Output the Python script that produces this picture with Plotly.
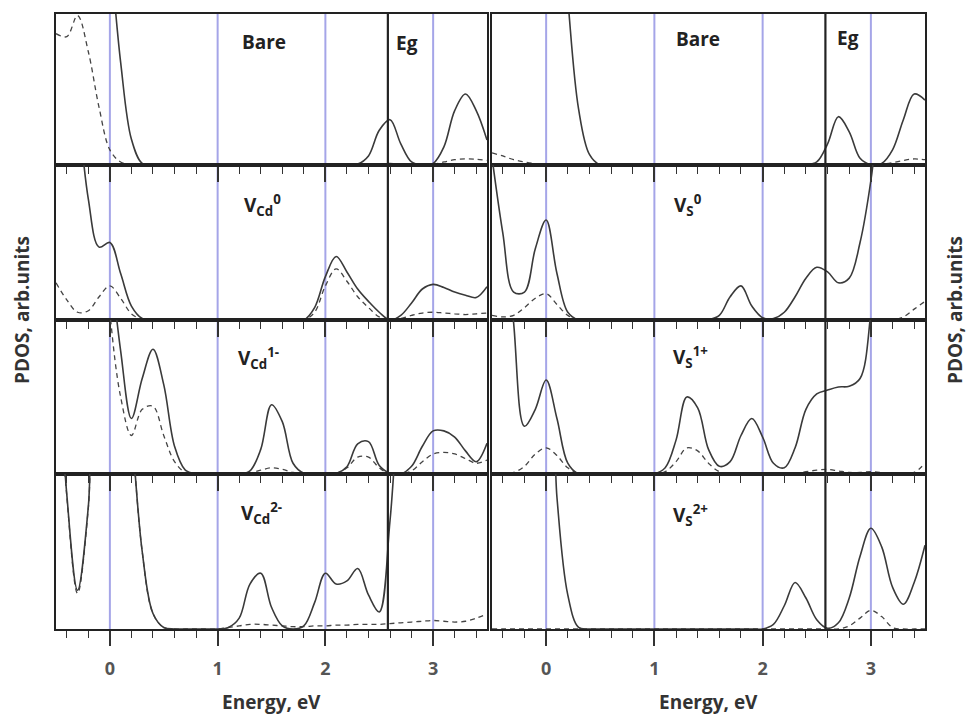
import plotly.graph_objects as go

# ---------------- data ----------------
ENERGY = [-0.5, -0.4, -0.3, -0.2, -0.1, 0.0, 0.1, 0.2, 0.3, 0.4,
          0.5, 0.6, 0.7, 0.8, 0.9, 1.0, 1.1, 1.2, 1.3, 1.4,
          1.5, 1.6, 1.7, 1.8, 1.9, 2.0, 2.1, 2.2, 2.3, 2.4,
          2.5, 2.6, 2.7, 2.8, 2.9, 3.0, 3.1, 3.2, 3.3, 3.4, 3.5]

EG = 2.58
GRID_LINES = [0, 1, 2, 3]
TICK_VALUES = [0, 1, 2, 3]
TICK_LABELS = ["0", "1", "2", "3"]

# Left column (Cd vacancy)
bare_cd_solid = [2.0, 2.0, 2.0, 2.0, 1.9, 1.4, 0.68, 0.17, 0.01, 0.0,
                 0.0, 0.0, 0.0, 0.0, 0.0, 0.0, 0.0, 0.0, 0.0, 0.0,
                 0.0, 0.0, 0.0, 0.0, 0.0, 0.0, 0.0, 0.0, 0.006, 0.06,
                 0.23, 0.30, 0.14, 0.02, 0.0, 0.01, 0.12, 0.36, 0.47, 0.36, 0.165]
bare_cd_dash = [0.87, 0.85, 0.99, 0.75, 0.38, 0.1, 0.02, 0.005, 0.0, 0.0,
                0.0, 0.0, 0.0, 0.0, 0.0, 0.0, 0.0, 0.0, 0.0, 0.0,
                0.0, 0.0, 0.0, 0.0, 0.0, 0.0, 0.0, 0.0, 0.0, 0.003,
                0.006, 0.01, 0.005, 0.0, 0.0, 0.005, 0.02, 0.035, 0.04, 0.038, 0.03]

vcd0_solid = [2.0, 2.0, 1.4, 0.78, 0.47, 0.50, 0.30, 0.09, 0.01, 0.0,
              0.0, 0.0, 0.0, 0.0, 0.0, 0.0, 0.0, 0.0, 0.0, 0.0,
              0.0, 0.0, 0.0, 0.0, 0.08, 0.28, 0.41, 0.31, 0.2, 0.12,
              0.05, 0.0, 0.03, 0.11, 0.2, 0.23, 0.21, 0.18, 0.16, 0.145, 0.215]
vcd0_dash = [0.24, 0.13, 0.05, 0.06, 0.15, 0.22, 0.14, 0.04, 0.005, 0.0,
             0.0, 0.0, 0.0, 0.0, 0.0, 0.0, 0.0, 0.0, 0.0, 0.0,
             0.0, 0.0, 0.0, 0.0, 0.05, 0.22, 0.33, 0.25, 0.15, 0.08,
             0.02, 0.0, 0.01, 0.03, 0.045, 0.05, 0.045, 0.04, 0.035, 0.04, 0.045]

vcd1_solid = [2.0, 2.0, 2.0, 2.0, 2.0, 1.4, 0.8, 0.36, 0.62, 0.81,
              0.58, 0.18, 0.025, 0.0, 0.0, 0.0, 0.0, 0.0, 0.02, 0.16,
              0.45, 0.34, 0.07, 0.005, 0.0, 0.0, 0.003, 0.047, 0.196, 0.21,
              0.055, 0.005, 0.0, 0.05, 0.18, 0.28, 0.28, 0.24, 0.15, 0.08, 0.2]
vcd1_dash = [2.0, 2.0, 2.0, 2.0, 2.0, 1.05, 0.5, 0.25, 0.42, 0.44,
             0.25, 0.08, 0.01, 0.0, 0.0, 0.0, 0.0, 0.0, 0.005, 0.025,
             0.04, 0.03, 0.01, 0.0, 0.0, 0.0, 0.005, 0.04, 0.11, 0.11,
             0.04, 0.0, 0.0, 0.02, 0.08, 0.13, 0.14, 0.13, 0.1, 0.07, 0.09]

vcd2_solid = [2.0, 0.87, 0.25, 0.79, 2.0, 2.0, 2.0, 1.3, 0.5, 0.1,
              0.01, 0.0, 0.0, 0.0, 0.0, 0.0, 0.01, 0.07, 0.29, 0.36,
              0.14, 0.02, 0.0, 0.02, 0.17, 0.36, 0.29, 0.31, 0.39, 0.22,
              0.11, 0.7, 1.6, 2.0, 2.0, 2.0, 2.0, 2.0, 2.0, 2.0, 2.0]
vcd2_dash = [2.0, 0.86, 0.23, 0.78, 2.0, 2.0, 2.0, 1.3, 0.5, 0.1,
             0.01, 0.0, 0.0, 0.0, 0.0, 0.0, 0.01, 0.02, 0.03, 0.03,
             0.025, 0.02, 0.015, 0.015, 0.02, 0.02, 0.025, 0.025, 0.03, 0.03,
             0.03, 0.035, 0.04, 0.045, 0.05, 0.055, 0.05, 0.045, 0.05, 0.07, 0.095]

# Right column (S vacancy)
bare_s_solid = [2.0, 2.0, 2.0, 2.0, 2.0, 2.0, 2.0, 1.1, 0.37, 0.07,
                0.0, 0.0, 0.0, 0.0, 0.0, 0.0, 0.0, 0.0, 0.0, 0.0,
                0.0, 0.0, 0.0, 0.0, 0.0, 0.0, 0.0, 0.0, 0.0, 0.0,
                0.02, 0.14, 0.32, 0.22, 0.045, 0.003, 0.01, 0.1, 0.3, 0.47, 0.43]
bare_s_dash = [0.08, 0.06, 0.035, 0.02, 0.008, 0.0, 0.0, 0.0, 0.0, 0.0,
               0.0, 0.0, 0.0, 0.0, 0.0, 0.0, 0.0, 0.0, 0.0, 0.0,
               0.0, 0.0, 0.0, 0.0, 0.0, 0.0, 0.0, 0.0, 0.0, 0.0,
               0.0, 0.0, 0.0, 0.0, 0.0, 0.0, 0.005, 0.015, 0.03, 0.04, 0.035]

vs0_solid = [1.05, 0.56, 0.18, 0.18, 0.46, 0.645, 0.3, 0.05, 0.0, 0.0,
             0.0, 0.0, 0.0, 0.0, 0.0, 0.0, 0.0, 0.0, 0.0, 0.0,
             0.002, 0.03, 0.15, 0.22, 0.09, 0.015, 0.01, 0.05, 0.15, 0.27,
             0.34, 0.31, 0.24, 0.27, 0.5, 0.9, 1.5, 2.0, 2.0, 2.0, 2.0]
vs0_dash = [0.03, 0.02, 0.03, 0.08, 0.14, 0.17, 0.1, 0.03, 0.0, 0.0,
            0.0, 0.0, 0.0, 0.0, 0.0, 0.0, 0.0, 0.0, 0.0, 0.0,
            0.0, 0.0, 0.0, 0.0, 0.0, 0.0, 0.0, 0.0, 0.0, 0.0,
            0.0, 0.0, 0.0, 0.0, 0.0, 0.0, 0.0, 0.0, 0.02, 0.07, 0.12]

vs1_solid = [2.0, 1.8, 0.98, 0.31, 0.42, 0.61, 0.36, 0.07, 0.0, 0.0,
             0.0, 0.0, 0.0, 0.0, 0.0, 0.0, 0.04, 0.22, 0.50, 0.43,
             0.16, 0.05, 0.08, 0.25, 0.36, 0.24, 0.07, 0.04, 0.17, 0.42,
             0.52, 0.545, 0.565, 0.57, 0.62, 1.05, 2.0, 2.0, 2.0, 2.0, 2.0]
vs1_dash = [0.0, 0.0, 0.01, 0.05, 0.13, 0.17, 0.12, 0.04, 0.005, 0.0,
            0.0, 0.0, 0.0, 0.0, 0.0, 0.0, 0.015, 0.08, 0.17, 0.15,
            0.07, 0.015, 0.005, 0.0, 0.0, 0.0, 0.0, 0.0, 0.005, 0.015,
            0.025, 0.03, 0.02, 0.01, 0.01, 0.015, 0.01, 0.0, 0.0, 0.01, 0.07]

vs2_solid = [2.0, 2.0, 2.0, 2.0, 2.0, 2.0, 0.85, 0.22, 0.01, 0.0,
             0.0, 0.0, 0.0, 0.0, 0.0, 0.0, 0.0, 0.0, 0.0, 0.0,
             0.0, 0.0, 0.0, 0.0, 0.0, 0.0, 0.03, 0.15, 0.30, 0.2,
             0.06, 0.005, 0.04, 0.2, 0.47, 0.65, 0.53, 0.27, 0.16, 0.3, 0.54]
vs2_dash = [0.0, 0.0, 0.0, 0.0, 0.0, 0.0, 0.0, 0.0, 0.0, 0.0,
            0.0, 0.0, 0.0, 0.0, 0.0, 0.0, 0.0, 0.0, 0.0, 0.0,
            0.0, 0.0, 0.0, 0.0, 0.0, 0.0, 0.0, 0.0, 0.0, 0.0,
            0.0, 0.0, 0.0, 0.02, 0.07, 0.12, 0.08, 0.01, 0.0, 0.0, 0.0]

LABELS_LEFT = ["Bare", "V<sub>Cd</sub><sup>0</sup>", "V<sub>Cd</sub><sup>1-</sup>", "V<sub>Cd</sub><sup>2-</sup>"]
LABELS_RIGHT = ["Bare", "V<sub>S</sub><sup>0</sup>", "V<sub>S</sub><sup>1+</sup>", "V<sub>S</sub><sup>2+</sup>"]

SOLID = [[bare_cd_solid, bare_s_solid], [vcd0_solid, vs0_solid],
         [vcd1_solid, vs1_solid], [vcd2_solid, vs2_solid]]
DASH = [[bare_cd_dash, bare_s_dash], [vcd0_dash, vs0_dash],
        [vcd1_dash, vs1_dash], [vcd2_dash, vs2_dash]]

# ---------------- layout geometry ----------------
W, H = 968, 714
COL_PX = [(56, 487), (492, 925)]
ROW_PX = [(14, 165), (165, 320), (320, 474), (474, 629)]
FONT = "Open Sans, Noto Sans, DejaVu Sans, sans-serif"


def px(x):
    return x / W


def py(y):
    return 1 - y / H


fig = go.Figure()
layout = dict(width=W, height=H, margin=dict(l=0, r=0, t=0, b=0),
              paper_bgcolor="white", plot_bgcolor="white", showlegend=False,
              font=dict(family=FONT, color="#333"))
shapes = []
annotations = []


def add_text(text, x, y, size=19, color="#222", angle=0):
    annotations.append(dict(text="<b>" + text + "</b>", xref="paper", yref="paper",
                            x=px(x), y=py(y), showarrow=False, textangle=angle,
                            xanchor="center", yanchor="middle",
                            font=dict(family=FONT, size=size, color=color)))


LABEL_POS_LEFT = [(264, 42), (262, 205), (258, 358), (261, 513)]
LABEL_POS_RIGHT = [(698, 39), (688, 205), (690, 357), (690, 515)]

for r in range(4):
    for c in range(2):
        n = r * 2 + c + 1
        xs = "" if n == 1 else str(n)
        x0, x1 = COL_PX[c]
        yt, yb = ROW_PX[r]
        layout["xaxis" + xs] = dict(
            domain=[px(x0), px(x1)], anchor="y" + xs, range=[-0.5, 3.5],
            tickmode="array", tickvals=TICK_VALUES, ticktext=TICK_LABELS,
            ticks="outside", ticklen=15, tickwidth=1.5, tickcolor="#333",
            showticklabels=(r == 3), ticklabelstandoff=8,
            tickfont=dict(family=FONT, size=18, color="#555", weight="bold"),
            minor=dict(dtick=0.2, tick0=0, ticks="outside", ticklen=7,
                       tickwidth=1.2, tickcolor="#333", showgrid=False),
            showline=True, linecolor="#222", linewidth=1.5, mirror=True,
            showgrid=False, zeroline=False, fixedrange=True)
        layout["yaxis" + xs] = dict(
            domain=[py(yb), py(yt)], anchor="x" + xs, range=[0, 1],
            showticklabels=False, ticks="", showline=True, linecolor="#222",
            linewidth=1.5, mirror=True, showgrid=False, zeroline=False,
            fixedrange=True)
        fig.add_trace(go.Scatter(x=ENERGY, y=DASH[r][c], mode="lines",
                                 line=dict(color="#444", width=1.3, dash="5px,4px",
                                           shape="spline", smoothing=1.0),
                                 xaxis="x" + xs, yaxis="y" + xs, hoverinfo="skip"))
        fig.add_trace(go.Scatter(x=ENERGY, y=SOLID[r][c], mode="lines",
                                 line=dict(color="#3a3a3a", width=1.6,
                                           shape="spline", smoothing=1.0),
                                 xaxis="x" + xs, yaxis="y" + xs, hoverinfo="skip"))
        for gx in GRID_LINES:
            shapes.append(dict(type="line", xref="x" + xs, yref="y" + xs + " domain",
                               x0=gx, x1=gx, y0=0, y1=1, layer="below",
                               line=dict(color="rgb(165,165,232)", width=2)))
        shapes.append(dict(type="line", xref="x" + xs, yref="y" + xs + " domain",
                           x0=EG, x1=EG, y0=0, y1=1, layer="above",
                           line=dict(color="#222", width=2.2)))
        label = (LABELS_LEFT if c == 0 else LABELS_RIGHT)[r]
        lx, ly = (LABEL_POS_LEFT if c == 0 else LABEL_POS_RIGHT)[r]
        add_text(label, lx, ly)

# Eg labels
add_text("Eg", 407, 43)
add_text("Eg", 848, 38)
# axis titles
for cx in (271.5, 708.5):
    add_text("Energy, eV", cx, 702, color="#333")
for tx in (22, 955):
    add_text("PDOS, arb.units", tx, 310, color="#333", angle=-90)

layout["shapes"] = shapes
layout["annotations"] = annotations
fig.update_layout(**layout)
# remove the default page margin so the figure fills the window exactly
fig.write_html("out.html",
               config={"displayModeBar": False},
               post_script="document.body.style.margin='0';"
                           "document.body.style.overflow='hidden';")
